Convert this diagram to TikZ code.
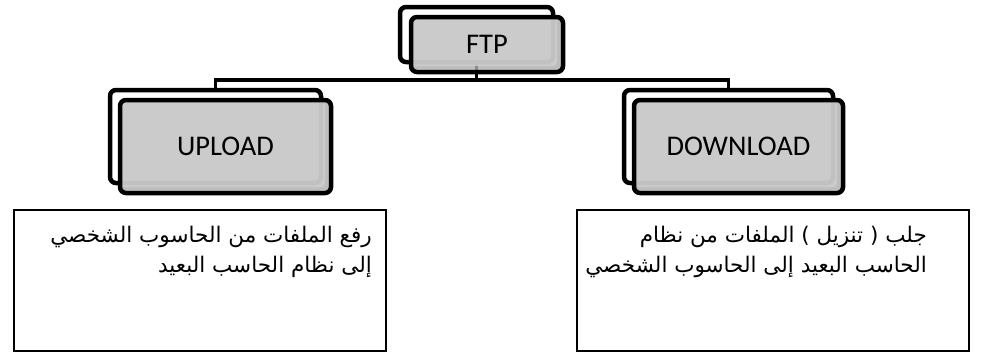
\documentclass[tikz,border=0pt]{standalone}
\usepackage{fontspec}
\setmainfont{Carlito}
\newfontfamily\arabicfont[Script=Arabic]{DejaVu Sans}
\TeXXeTstate=1
\definecolor{boxlight}{HTML}{CFCFCF}
\definecolor{boxdark}{HTML}{ADADAD}
\tikzset{
  backbox/.style={draw=black, line width=4.5pt, rounded corners=6pt, fill=white, inner sep=0pt},
  frontbox/.style={draw=black, line width=4.5pt, rounded corners=6pt, fill=boxdark,
    fill opacity=0.8, text opacity=1, inner sep=0pt,
    font=\fontsize{28.5}{32}\selectfont,
    path picture={\fill[boxlight, rounded corners=4pt]
      ([shift={(1pt,-1pt)}]path picture bounding box.north west) rectangle
      ([shift={(-6pt,6pt)}]path picture bounding box.south east);}},
  conn/.style={draw=black, line width=3.5pt},
  descbox/.style={draw=black, line width=2pt, fill=white, inner sep=0pt},
  desctext/.style={inner sep=0pt, align=right, font=\arabicfont\fontsize{21.5}{30}\selectfont}
}
\begin{document}
\begin{tikzpicture}[x=1pt,y=-1pt]
\useasboundingbox (0,0) rectangle (981,354);
% back boxes
\node[backbox, minimum width=153pt, minimum height=55pt] (ftpback) at (476.5,34.5) {};
\node[backbox, minimum width=211pt, minimum height=93pt] (upback) at (215.5,136.5) {};
\node[backbox, minimum width=209pt, minimum height=93pt] (downback) at (728.5,136.5) {};
% connectors
\coordinate (bus) at (476.5,80);
\draw[conn] (ftpback.south) -- (bus);
\draw[conn] (upback.north) |- (bus) -| (downback.north);
% front boxes
\node[frontbox, minimum width=152pt, minimum height=55pt] (ftp) at (487,44.5) {FTP};
\node[frontbox, minimum width=211pt, minimum height=93pt] (up) at (225.5,146.5) {UPLOAD};
\node[frontbox, minimum width=209pt, minimum height=93pt] (down) at (738.5,146.5) {DOWNLOAD};
% description boxes
\node[descbox, minimum width=372pt, minimum height=141pt] (updesc) at (200,280.5) {};
\node[descbox, minimum width=392pt, minimum height=141pt] (downdesc) at (773,280.5) {};
\node[desctext, anchor=north east] (uptext) at (372,226)
  {\beginR رفع الملفات من الحاسوب الشخصي\endR\\ \beginR إلى نظام الحاسب البعيد\endR};
\node[desctext, anchor=north east] (downtext) at (927,226)
  {\beginR جلب ( تنزيل ) الملفات من نظام\endR\\ \beginR الحاسب البعيد إلى الحاسوب الشخصي\endR};
\end{tikzpicture}
\end{document}
